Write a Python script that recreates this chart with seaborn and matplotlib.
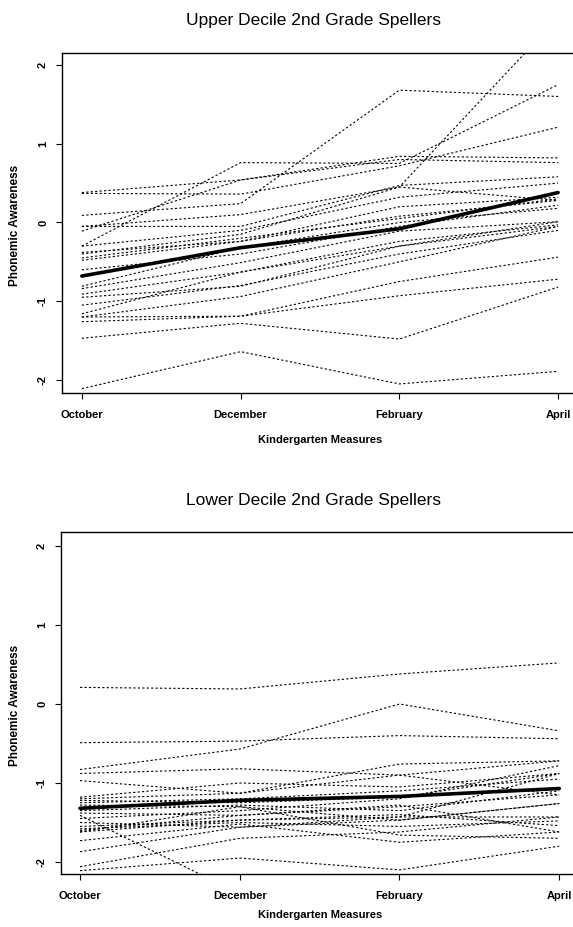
import numpy as np
import pandas as pd
import matplotlib
matplotlib.use("Agg")
import matplotlib.pyplot as plt
import seaborn as sns

months = ["October", "December", "February", "April"]

upper_lines = [
    [0.38, 0.54, 0.84, 0.82],
    [0.37, 0.36, 0.72, 1.21],
    [0.09, 0.24, 1.68, 1.60],
    [-0.30, 0.76, 0.75, 1.75],
    [-0.40, -0.15, 0.45, 2.60],
    [-0.11, 0.54, 0.80, 0.76],
    [-0.05, -0.05, 0.47, 0.58],
    [-0.30, -0.10, 0.32, 0.50],
    [-0.38, -0.24, 0.20, 0.32],
    [-0.48, -0.24, 0.08, 0.28],
    [-0.81, -0.32, 0.00, 0.18],
    [-0.84, -0.51, -0.11, 0.01],
    [-0.91, -0.63, -0.24, -0.03],
    [-0.95, -0.81, -0.30, 0.01],
    [-1.16, -0.63, -0.30, -0.05],
    [-1.20, -0.94, -0.50, -0.05],
    [-1.26, -1.19, -0.75, -0.44],
    [-1.20, -1.19, -0.93, -0.72],
    [-1.47, -1.28, -1.48, -0.82],
    [-2.11, -1.64, -2.05, -1.89],
    [-0.05, 0.10, 0.45, 0.28],
    [-0.60, -0.40, -0.05, 0.22],
    [-0.45, -0.20, 0.05, 0.30],
    [-1.05, -0.80, -0.40, -0.10],
]
upper_mean = [-0.68, -0.32, -0.08, 0.38]

lower_lines = [
    [0.21, 0.19, 0.38, 0.52],
    [-0.49, -0.47, -0.40, -0.44],
    [-0.83, -0.57, 0.00, -0.34],
    [-0.88, -0.82, -0.90, -1.15],
    [-0.97, -1.13, -0.76, -0.72],
    [-1.18, -1.00, -1.05, -0.88],
    [-1.20, -1.13, -0.90, -0.72],
    [-1.22, -1.25, -1.18, -0.88],
    [-1.28, -1.30, -1.47, -1.26],
    [-1.38, -1.41, -1.30, -1.15],
    [-1.50, -1.56, -1.43, -1.43],
    [-1.55, -1.47, -1.40, -1.54],
    [-1.60, -1.41, -1.28, -1.62],
    [-1.62, -1.30, -1.66, -1.70],
    [-1.73, -1.52, -1.75, -1.62],
    [-1.87, -1.56, -1.47, -1.26],
    [-2.11, -1.95, -2.10, -1.80],
    [-2.06, -1.70, -1.62, -1.43],
    [-1.41, -2.40, -2.50, -2.45],
    [-1.62, -1.47, -1.43, -0.88],
    [-1.25, -1.20, -1.10, -0.95],
    [-1.35, -1.28, -1.35, -1.10],
    [-1.45, -1.35, -1.20, -0.78],
    [-1.58, -1.50, -1.55, -1.48],
]
lower_mean = [-1.32, -1.22, -1.17, -1.07]

titles = ["Upper Decile 2nd Grade Spellers", "Lower Decile 2nd Grade Spellers"]
xlabel = "Kindergarten Measures"
ylabel = "Phonemic Awareness"
yticks = [-2, -1, 0, 1, 2]

sns.set_theme(style="ticks")
plt.rcParams['font.family'] = ['Liberation Sans', 'DejaVu Sans']
plt.rcParams['text.color'] = 'black'


def to_long(lines):
    rows = []
    for i, line in enumerate(lines):
        for j, v in enumerate(line):
            rows.append({"student": i, "t": j, "score": v})
    return pd.DataFrame(rows)


W, H = 573, 927
fig = plt.figure(figsize=(W / 100, H / 100), dpi=100)

panels = [
    dict(lines=upper_lines, mean=upper_mean, left=62, top=53, bottom=393,
         ylim=(-2.165, 2.152), xlim=(-0.125, 3.138), title_y=20, xl_y=440, yl_y=225),
    dict(lines=lower_lines, mean=lower_mean, left=61, top=532, bottom=874,
         ylim=(-2.152, 2.177), xlim=(-0.119, 3.13), title_y=500, xl_y=915, yl_y=705),
]

for k, p in enumerate(panels):
    right = 580
    ax = fig.add_axes([p["left"] / W, 1 - p["bottom"] / H,
                       (right - p["left"]) / W, (p["bottom"] - p["top"]) / H])
    df = to_long(p["lines"])
    sns.lineplot(data=df, x="t", y="score", units="student", estimator=None,
                 color="black", linewidth=0.8, linestyle=(0, (2.0, 2.0)), ax=ax,
                 legend=False)
    mdf = pd.DataFrame({"t": range(len(months)), "score": p["mean"]})
    sns.lineplot(data=mdf, x="t", y="score", color="black", linewidth=2.6, ax=ax,
                 legend=False)
    ax.set_xlim(*p["xlim"])
    ax.set_ylim(*p["ylim"])
    ax.set_xticks(range(len(months)))
    ax.set_xticklabels(months, fontsize=8, fontweight="bold")
    ax.set_yticks(yticks)
    ax.set_yticklabels([str(v) for v in yticks], fontsize=8, fontweight="bold",
                       rotation=90, va="center")
    ax.tick_params(axis="both", direction="out", length=4, width=0.8, colors="black")
    ax.tick_params(axis="x", pad=8)
    ax.tick_params(axis="y", pad=6)
    ax.set_xlabel("")
    ax.set_ylabel("")
    for s in ["left", "top", "bottom", "right"]:
        ax.spines[s].set_color("black")
        ax.spines[s].set_linewidth(1.0)
    ax.set_facecolor("white")
    fig.text(314 / W, 1 - p["title_y"] / H, titles[k], ha="center", va="center",
             fontsize=12.5, color="black")
    fig.text(320 / W, 1 - p["xl_y"] / H, xlabel, ha="center", va="center",
             fontsize=8, fontweight="bold", color="black")
    fig.text(15 / W, 1 - p["yl_y"] / H, ylabel, ha="center", va="center",
             fontsize=8.5, fontweight="bold", rotation=90, color="black")

fig.savefig("out.png", dpi=100, facecolor="white")
